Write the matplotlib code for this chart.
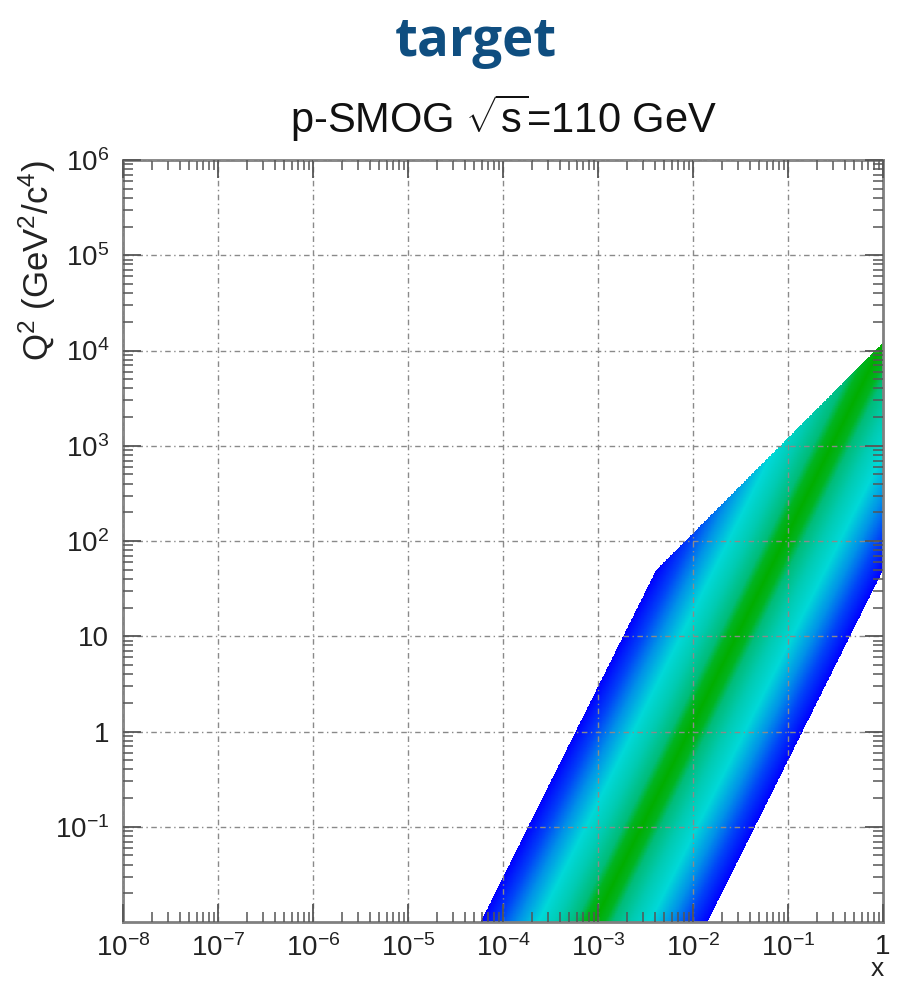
import numpy as np
import matplotlib
matplotlib.use("Agg")
import matplotlib.pyplot as plt
from matplotlib.colors import LinearSegmentedColormap
from matplotlib.ticker import FixedLocator, FixedFormatter, LogLocator, NullFormatter

plt.rcParams['font.family'] = ['Liberation Sans', 'DejaVu Sans']
plt.rcParams['mathtext.fontset'] = 'custom'
plt.rcParams['mathtext.rm'] = 'Liberation Sans'
plt.rcParams['mathtext.it'] = 'Liberation Sans:italic'
plt.rcParams['mathtext.bf'] = 'Liberation Sans:bold'

# Beam / acceptance settings
sqrt_s = 110.0          # centre-of-mass energy, GeV
y_min, y_max = -2.75, 2.75   # rapidity acceptance in the c.m. frame

# Colour scale versus |y|
abs_y_stops = [0.0, 0.25, 0.45, 0.9, 1.35, 1.85, 2.3, 2.75]
stop_colors = ['#00ae00', '#00b420', '#00bc78', '#00cbb2', '#00d8d8',
               '#0092e8', '#0040f8', '#0000ff']

# Axes ticks and labels
x_ticks = [1e-8, 1e-7, 1e-6, 1e-5, 1e-4, 1e-3, 1e-2, 1e-1, 1.0]
x_tick_labels = [r'$10^{-8}$', r'$10^{-7}$', r'$10^{-6}$', r'$10^{-5}$',
                 r'$10^{-4}$', r'$10^{-3}$', r'$10^{-2}$', r'$10^{-1}$', '1']
y_ticks = [1e-1, 1.0, 10.0, 1e2, 1e3, 1e4, 1e5, 1e6]
y_tick_labels = [r'$10^{-1}$', '1', '10', r'$10^{2}$', r'$10^{3}$',
                 r'$10^{4}$', r'$10^{5}$', r'$10^{6}$']

x_range = (1e-8, 1.0)
q2_range = (1e-2, 1e6)

fig = plt.figure(figsize=(8.97, 9.84), dpi=100)
ax = fig.add_axes([123 / 897, 1 - 922 / 984, 760 / 897, 762 / 984])

# Kinematic coverage: x2 = x, x1 = Q^2 / (x s), y = 0.5 ln(x1 / x2)
s = sqrt_s ** 2
x_edges = np.geomspace(1e-5, x_range[1], 1100)
q2_edges = np.geomspace(q2_range[0], q2_range[1], 1300)
xc = np.sqrt(x_edges[:-1] * x_edges[1:])
qc = np.sqrt(q2_edges[:-1] * q2_edges[1:])
X, Q2 = np.meshgrid(xc, qc)
rap = 0.5 * np.log(Q2 / (X ** 2 * s))
outside = (rap > y_max) | (rap < y_min) | (Q2 > X * s)
vals = np.ma.masked_where(outside, np.abs(rap))

cmap = LinearSegmentedColormap.from_list(
    'ycol', list(zip(np.array(abs_y_stops) / y_max, stop_colors)))
ax.pcolormesh(x_edges, q2_edges, vals, cmap=cmap, vmin=0, vmax=y_max,
              shading='flat', rasterized=True, zorder=1)

ax.set_xscale('log')
ax.set_yscale('log')
ax.set_xlim(*x_range)
ax.set_ylim(*q2_range)

ax.xaxis.set_major_locator(FixedLocator(x_ticks))
ax.xaxis.set_major_formatter(FixedFormatter(x_tick_labels))
ax.yaxis.set_major_locator(FixedLocator(y_ticks))
ax.yaxis.set_major_formatter(FixedFormatter(y_tick_labels))
for axis in (ax.xaxis, ax.yaxis):
    axis.set_minor_locator(LogLocator(base=10, subs=np.arange(2, 10), numticks=30))
    axis.set_minor_formatter(NullFormatter())

ax.tick_params(which='both', direction='in', top=True, right=True,
               color='#555555', labelsize=20, labelcolor='#222222')
ax.tick_params(which='major', length=13, width=1.3, pad=10)
ax.tick_params(which='minor', length=7, width=1.1)
ax.tick_params(axis='x', which='major', pad=9)

ax.set_axisbelow(False)
ax.grid(True, which='major', color='#8a8a8a', linestyle=(0, (4, 2.5, 1, 2.5)),
        linewidth=1.0)

for sp in ax.spines.values():
    sp.set_color('#808080')
    sp.set_linewidth(2)

ax.text(0.993, -0.071, 'x', transform=ax.transAxes, ha='center', va='baseline',
        fontsize=19, color='#222222')
ax.set_ylabel(r'Q$^{2}$ (GeV$^{2}$/c$^{4}$)', fontsize=25, color='#222222', loc='top')
ax.yaxis.set_label_coords(-0.086, 1.0)

ax.text(0.5, 1.055, r'p-SMOG $\sqrt{\mathrm{s}}$=110 GeV', transform=ax.transAxes,
        ha='center', va='center', fontsize=30, color='#111111')

fig.text(476 / 897, 1 - 42 / 984, 'target', ha='center', va='center',
         fontsize=38, fontweight='bold', color='#0f4e80',
         family=['Open Sans', 'DejaVu Sans'])

fig.savefig('out.png', dpi=100)
